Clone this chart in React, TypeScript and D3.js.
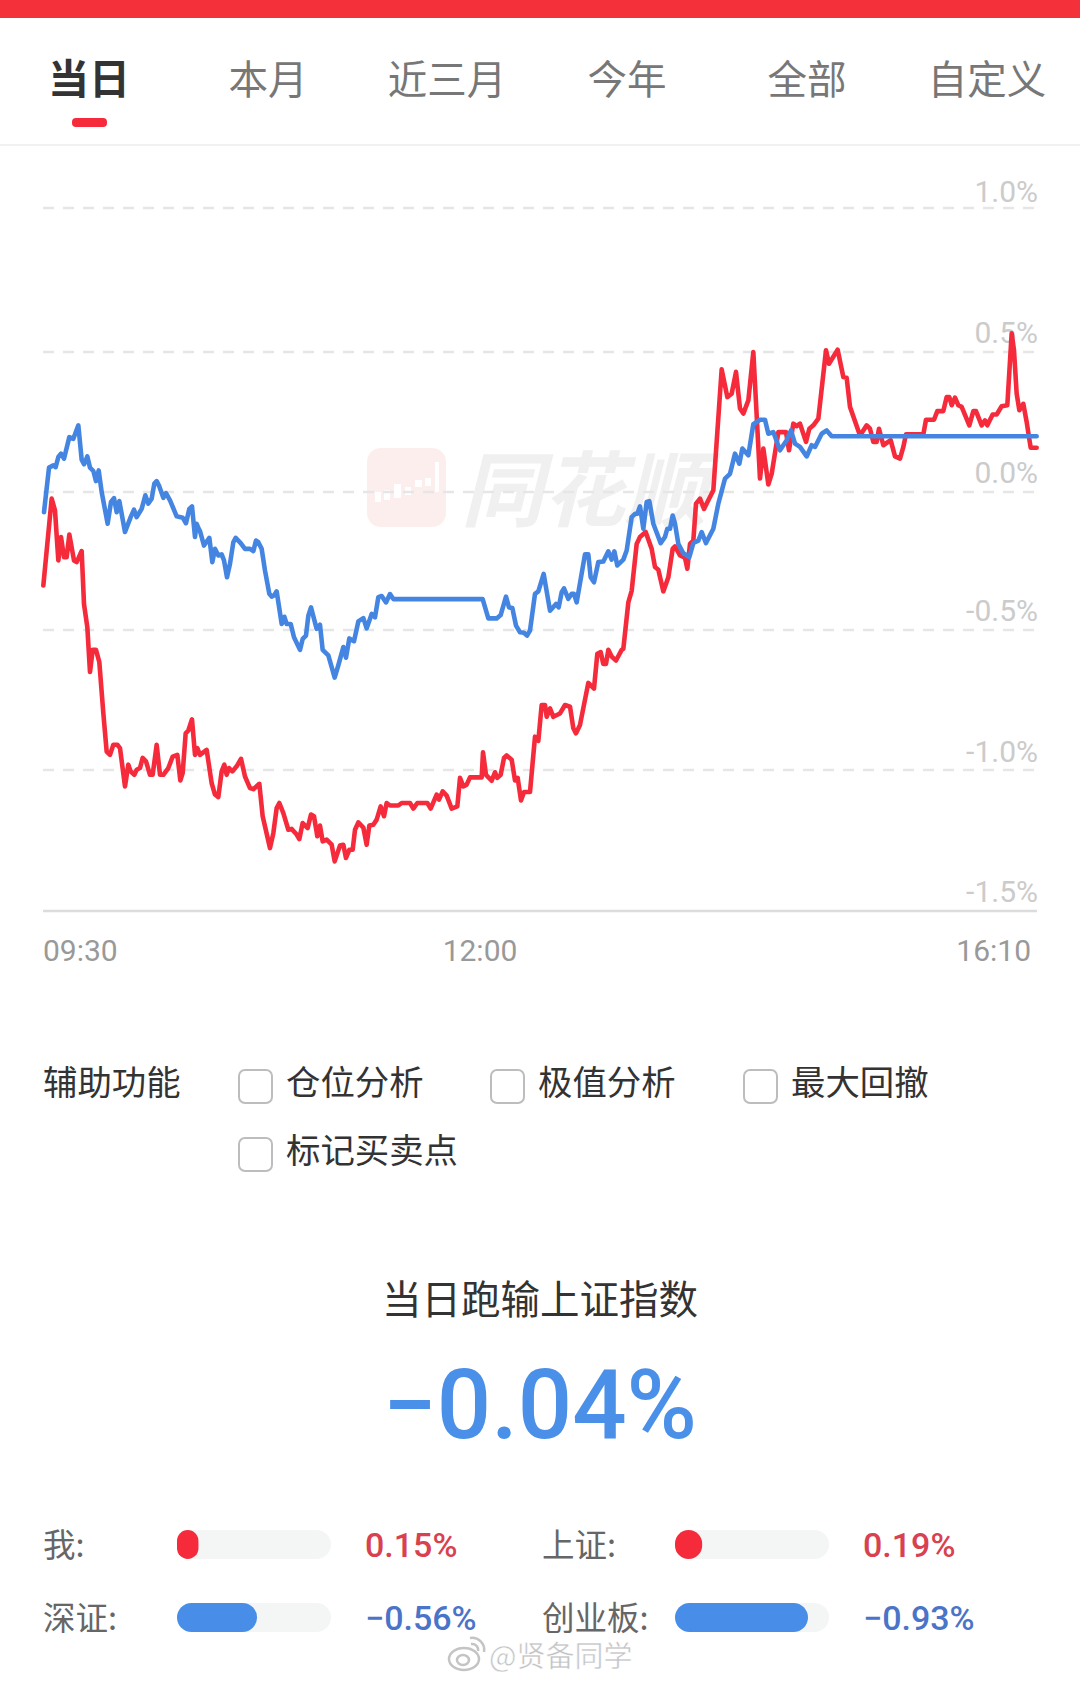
import React from "react";
import * as d3 from "d3";

const tabs = ["当日", "本月", "近三月", "今年", "全部", "自定义"];
const yTicks = [1.0, 0.5, 0.0, -0.5, -1.0, -1.5];
const xLabels = ["09:30", "12:00", "16:10"];
const helpers = ["仓位分析", "极值分析", "最大回撤", "标记买卖点"];
const compareNames = ["我:", "上证:", "深证:", "创业板:"];
const compareValues = [0.15, 0.19, -0.56, -0.93];

const blueT = [3,18,31,38,46,54,63,79,91,106,116,123,133,141,151,159,167,176,194,204,213,221,229,246,263,273,281,296,307,316,326,334,341,349,361,369,381,401,419,429,439,447,456,461,467,471,483,499,508,516,526,536,543,552,561,571,578,593,606,621,631,639,646,656,666,679,686,693,701,716,724,731,743,753,771,779,789,796,804,821,831,839,856,875,886,901,909,919,933,946,961,971,986,996,1006,1016,1029,1041,1051,1319,1336,1361,1373,1389,1398,1408,1419,1431,1443,1452,1461,1476,1486,1502,1521,1539,1547,1556,1563,1576,1586,1593,1601,1626,1636,1643,1653,1666,1681,1696,1706,1714,1723,1741,1751,1766,1776,1783,1791,1801,1811,1819,1831,1853,1866,1873,1881,1889,1896,1906,1921,1939,1951,1966,1976,1989,2011,2026,2046,2061,2076,2089,2098,2116,2131,2151,2166,2176,2191,2211,2231,2244,2256,2271,2291,2306,2316,2336,2351,2366,2981];
const blueV = [-.073,.087,.095,.089,.125,.137,.119,.196,.19,.238,.115,.099,.127,.087,.075,.039,.077,0,-.115,-.036,-.022,-.073,-.033,-.145,-.091,-.064,-.091,-.061,-.012,-.042,-.024,.03,.039,.02,-.021,-.004,-.03,-.088,-.093,-.113,-.061,-.052,-.163,-.115,-.133,-.142,-.194,-.166,-.254,-.206,-.23,-.226,-.248,-.309,-.26,-.182,-.166,-.185,-.206,-.206,-.214,-.176,-.182,-.206,-.285,-.369,-.379,-.375,-.36,-.478,-.452,-.478,-.478,-.526,-.571,-.532,-.52,-.448,-.418,-.496,-.481,-.571,-.591,-.67,-.626,-.561,-.599,-.53,-.54,-.469,-.457,-.494,-.442,-.454,-.381,-.377,-.4,-.37,-.388,-.388,-.458,-.458,-.446,-.379,-.418,-.42,-.484,-.508,-.51,-.52,-.502,-.369,-.36,-.297,-.43,-.406,-.418,-.363,-.349,-.387,-.369,-.369,-.4,-.226,-.226,-.309,-.327,-.254,-.252,-.215,-.245,-.215,-.266,-.245,-.212,-.091,-.079,-.079,-.052,-.133,-.036,-.033,-.115,-.185,-.163,-.133,-.133,-.085,-.115,-.188,-.222,-.236,-.185,-.176,-.145,-.185,-.133,-.042,.048,.065,.137,.101,.155,.131,.242,.258,.258,.208,.214,.149,.185,.22,.173,.161,.127,.167,.161,.208,.22,.199,.199];

const redT = [1,26,36,46,54,63,71,79,93,101,116,123,133,141,149,159,169,181,191,201,211,223,231,246,256,263,274,281,291,299,309,321,329,341,351,361,376,389,403,412,419,428,436,447,456,463,471,491,506,516,526,536,544,551,558,568,581,594,606,621,631,649,659,681,691,701,709,721,736,746,761,769,779,794,804,813,823,831,839,851,866,875,891,901,909,919,929,936,946,961,971,979,991,1001,1013,1023,1031,1041,1066,1076,1101,1111,1123,1153,1163,1181,1188,1199,1211,1226,1243,1251,1261,1271,1281,1316,1320,1329,1346,1356,1363,1373,1383,1391,1406,1416,1424,1434,1443,1461,1476,1486,1496,1506,1511,1521,1531,1551,1566,1581,1591,1599,1611,1636,1653,1663,1673,1681,1689,1696,1706,1719,1736,1741,1756,1766,1781,1791,1808,1826,1836,1846,1861,1876,1889,1896,1911,1926,1933,1941,1951,1959,1971,1983,1996,2011,2036,2053,2066,2079,2091,2101,2116,2131,2151,2161,2176,2186,2206,2229,2238,2251,2261,2271,2289,2299,2311,2326,2349,2358,2384,2401,2411,2421,2451,2471,2481,2491,2501,2508,2521,2543,2556,2571,2581,2589,2641,2649,2673,2683,2701,2711,2719,2726,2736,2746,2756,2779,2791,2799,2816,2826,2833,2849,2861,2876,2893,2906,2913,2921,2929,2941,2951,2963,2981];
const redV = [-.339,-.024,-.067,-.248,-.163,-.236,-.236,-.154,-.248,-.254,-.214,-.406,-.49,-.65,-.571,-.571,-.615,-.798,-.934,-.946,-.91,-.91,-.922,-1.058,-.981,-1.005,-1.017,-.999,-.993,-.957,-.969,-1.017,-1.017,-.91,-1.017,-1.017,-.993,-.952,-.946,-1.037,-1.011,-.869,-.859,-.819,-.946,-.922,-.946,-.928,-1.047,-1.087,-1.096,-1.005,-.981,-1.017,-.993,-1.005,-.987,-.96,-1.023,-1.064,-1.068,-1.049,-1.164,-1.277,-1.224,-1.135,-1.117,-1.153,-1.212,-1.209,-1.229,-1.245,-1.188,-1.206,-1.158,-1.164,-1.235,-1.197,-1.253,-1.247,-1.265,-1.324,-1.268,-1.265,-1.312,-1.283,-1.283,-1.212,-1.186,-1.204,-1.265,-1.197,-1.194,-1.176,-1.129,-1.164,-1.117,-1.126,-1.126,-1.117,-1.117,-1.137,-1.117,-1.117,-1.137,-1.087,-1.105,-1.076,-1.091,-1.137,-1.129,-1.028,-1.058,-1.052,-1.026,-1.026,-.937,-1.017,-1.038,-1.008,-1.028,-1.017,-.957,-.948,-.963,-1.037,-1.028,-1.108,-1.078,-1.078,-.881,-.896,-.768,-.768,-.81,-.78,-.81,-.798,-.768,-.774,-.851,-.869,-.839,-.689,-.709,-.585,-.579,-.621,-.621,-.571,-.595,-.609,-.571,-.567,-.4,-.358,-.188,-.163,-.145,-.206,-.272,-.282,-.36,-.309,-.206,-.197,-.23,-.238,-.278,-.188,-.176,-.042,-.024,-.061,-.03,.006,.438,.339,.351,.429,.298,.28,.327,.5,.048,.155,.027,.065,.214,.214,.149,.244,.235,.244,.179,.226,.238,.262,.506,.458,.508,.411,.408,.304,.202,.238,.226,.179,.179,.226,.167,.185,.127,.119,.161,.206,.206,.258,.258,.289,.289,.339,.339,.31,.337,.31,.304,.238,.289,.289,.238,.256,.238,.277,.277,.306,.31,.565,.506,.351,.292,.315,.25,.158,.158];

const RED = "#f52b3c";
const BLUE = "#4585e2";
const SANS = "'Noto Sans CJK SC', 'Noto Sans', sans-serif";
const NUM = "Roboto, 'Noto Sans', sans-serif";

const x = d3.scaleLinear().domain([0, 2982]).range([43, 1037]);
const y = d3.scaleLinear().domain([-1.5, -1, -0.5, 0, 0.5, 1]).range([911, 770, 630, 492, 352, 208]);
const tickLabelY = d3.scaleOrdinal<number, number>().domain(yTicks).range([191, 332, 472, 610, 751, 891]);
const barW = d3.scaleLinear().domain([0, 1]).range([0, 143]);

function path(ts: number[], vs: number[]) {
  return d3.line<number>().x((t) => x(t)).y((_, i) => y(vs[i])).curve(d3.curveLinear)(ts) as string;
}
const pct = (v: number) => (v < 0 ? "−" : "") + Math.abs(v).toFixed(2) + "%";

const tabX = [89, 268, 447, 627, 807, 987];
const helperPos = [
  { bx: 238, by: 1069, tx: 286, ty: 1080 },
  { bx: 490, by: 1069, tx: 538, ty: 1080 },
  { bx: 743, by: 1069, tx: 791, ty: 1080 },
  { bx: 238, by: 1137, tx: 286, ty: 1148 },
];
const compPos = [
  { lx: 43, bx: 177, vx: 365, cy: 1545 },
  { lx: 542, bx: 675, vx: 863, cy: 1545 },
  { lx: 43, bx: 177, vx: 365, cy: 1618 },
  { lx: 542, bx: 675, vx: 863, cy: 1618 },
];

export default function App() {
  return (
    <svg width={1080} height={1682} viewBox="0 0 1080 1682" style={{ position: "absolute", left: 0, top: 0, display: "block", background: "#fff" }}>
      <rect x={0} y={0} width={1080} height={18} fill="#f4303a" />
      {tabs.map((t, i) => (
        <text key={t} x={tabX[i]} y={76} dominantBaseline="central" textAnchor="middle" fontFamily={SANS}
          fontSize={i === 0 ? 41 : 39.5} fontWeight={i === 0 ? 700 : 400} fill={i === 0 ? "#333" : "#777"}>{t}</text>
      ))}
      <rect x={72} y={118} width={35} height={9} rx={4} fill={RED} />
      <rect x={0} y={144} width={1080} height={2} fill="#f1f1f1" />

      {/* watermark */}
      <rect x={367} y={448} width={79} height={79} rx={14} fill="#fdeeee" />
      {[[375,492,6,10],[384,490,6,10],[394,484,7,14],[405,487,6,8],[415,480,7,7],[425,478,6,8],[435,462,4,30]].map((r, i) => (
        <rect key={i} x={r[0]} y={r[1]} width={r[2]} height={r[3]} fill="#fff" />
      ))}
      <text x={461} y={484} dominantBaseline="central" fontFamily={SANS} fontSize={82} fontWeight={700} fontStyle="italic" fill="#f0f0f0">同花顺</text>

      {yTicks.slice(0, 5).map((v) => (
        <line key={v} x1={43} x2={1037} y1={y(v)} y2={y(v)} stroke="#e6e6e6" strokeWidth={2.6} strokeDasharray="11 9" />
      ))}
      <line x1={43} x2={1037} y1={y(-1.5)} y2={y(-1.5)} stroke="#dcdcdc" strokeWidth={2.6} />
      {yTicks.map((v) => (
        <text key={v} x={1038} y={tickLabelY(v)} dominantBaseline="central" textAnchor="end" fontFamily={NUM} fontSize={30} fill="#cbcbcb">
          {(v < 0 ? "-" : "") + Math.abs(v).toFixed(1) + "%"}
        </text>
      ))}
      <text x={43} y={950} dominantBaseline="central" fontFamily={NUM} fontSize={30} fill="#999">{xLabels[0]}</text>
      <text x={480} y={950} dominantBaseline="central" textAnchor="middle" fontFamily={NUM} fontSize={30} fill="#999">{xLabels[1]}</text>
      <text x={1031} y={950} dominantBaseline="central" textAnchor="end" fontFamily={NUM} fontSize={30} fill="#999">{xLabels[2]}</text>

      <path d={path(redT, redV)} fill="none" stroke={RED} strokeWidth={4.6} strokeLinejoin="round" strokeLinecap="round" />
      <path d={path(blueT, blueV)} fill="none" stroke={BLUE} strokeWidth={4.6} strokeLinejoin="round" strokeLinecap="round" />

      <text x={43} y={1080} dominantBaseline="central" fontFamily={SANS} fontSize={34.4} fill="#333">辅助功能</text>
      {helpers.map((h, i) => (
        <g key={h}>
          <rect x={helperPos[i].bx + 1} y={helperPos[i].by + 1} width={33} height={33} rx={6} fill="#fff" stroke="#bdbdbd" strokeWidth={2} />
          <text x={helperPos[i].tx} y={helperPos[i].ty} dominantBaseline="central" fontFamily={SANS} fontSize={34.4} fill="#333">{h}</text>
        </g>
      ))}

      <text x={540} y={1296} dominantBaseline="central" textAnchor="middle" fontFamily={SANS} fontSize={39.5} fill="#333">当日跑输上证指数</text>
      <text x={540} y={1405} dominantBaseline="central" textAnchor="middle" fontFamily={NUM} fontSize={96} fontWeight={500} fill="#4a8fe8" textLength={314} lengthAdjust="spacingAndGlyphs">−0.04%</text>

      {compareNames.map((n, i) => {
        const p = compPos[i];
        const v = compareValues[i];
        return (
          <g key={n}>
            <text x={p.lx} y={p.cy - 3} dominantBaseline="central" fontFamily={SANS} fontSize={32.5} fill="#666">{n}</text>
            <rect x={p.bx} y={p.cy - 15} width={154} height={29} rx={14.5} fill="#f4f6f6" />
            <rect x={p.bx} y={p.cy - 15} width={barW(Math.abs(v))} height={29} rx={Math.min(14.5, barW(Math.abs(v)) / 2)} fill={v > 0 ? RED : "#488ee8"} />
            <text x={p.vx} y={p.cy} dominantBaseline="central" fontFamily={NUM} fontSize={34} fontWeight={500} fill={v > 0 ? "#d8414f" : "#4a74c8"}>{pct(v)}</text>
          </g>
        );
      })}

      {/* social watermark */}
      <g fill="none" stroke="#c4c4c4" strokeWidth={2.5}>
        <ellipse cx={464} cy={1659} rx={15} ry={11} />
        <ellipse cx={463} cy={1660} rx={6} ry={5} />
        <path d="M470 1638 a12 12 0 0 1 14 14" />
        <path d="M471 1644 a6 6 0 0 1 7 7" />
      </g>
      <text x={489} y={1654} dominantBaseline="central" fontFamily={SANS} fontSize={29} fill="#c2c2c2" stroke="#fff" strokeWidth={0.5}>@贤备同学</text>
    </svg>
  );
}
